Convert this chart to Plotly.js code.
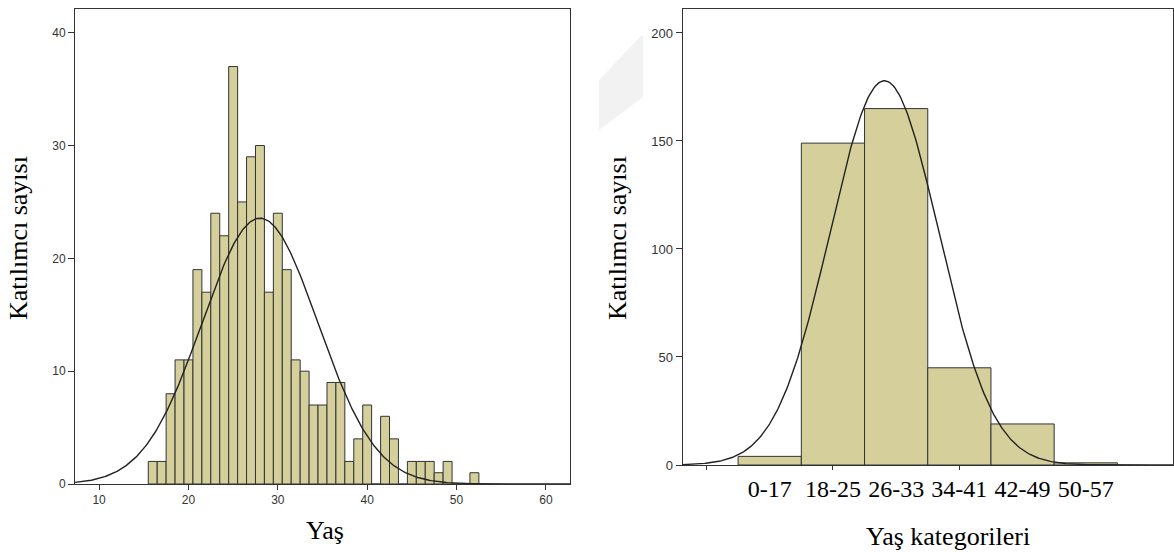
<!DOCTYPE html>
<html>
<head>
<meta charset="utf-8">
<script src="https://cdn.plot.ly/plotly-3.0.1.min.js"></script>
<style>html,body{margin:0;padding:0;background:#fff;}#chart{width:1174px;height:552px;}</style>
</head>
<body>
<div id="chart"></div>
<script>
// Left histogram: age (Yaş) vs count
const ages = [16,17,18,19,20,21,22,23,24,25,26,27,28,29,30,31,32,33,34,35,36,37,38,39,40,41,42,43,44,45,46,47,48,49,50,51,52];
const ageCounts = [2,2,8,11,11,19,17,24,22,37,25,29,30,17,24,19,11,10,7,7,9,9,2,4,7,0,6,4,0,2,2,2,1,2,0,0,1];
const leftXTicks = [10,20,30,40,50,60];
const leftYTicks = [0,10,20,30,40];

// Right histogram: age categories
const categories = ['0-17','18-25','26-33','34-41','42-49','50-57'];
const categoryCodes = [1,2,3,4,5,6];
const categoryCounts = [4,149,165,45,19,1];
const rightYTicks = [0,50,100,150,200];
const rightXTicks = [0,2,4];

const W = 1174, H = 552;
const px = v => v / W;
const py = v => 1 - v / H;

// Normal curve fitted from data (mean, sample sd), scaled to counts * bin width
function normalFit(xs, ns, lo, hi, binW) {
  let n = 0, s = 0;
  for (let i = 0; i < xs.length; i++) { n += ns[i]; s += xs[i] * ns[i]; }
  const mean = s / n;
  let ss = 0;
  for (let i = 0; i < xs.length; i++) ss += ns[i] * (xs[i] - mean) ** 2;
  const sd = Math.sqrt(ss / (n - 1));
  const cx = [], cy = [];
  const steps = 400;
  for (let k = 0; k <= steps; k++) {
    const x = lo + (hi - lo) * k / steps;
    cx.push(x);
    cy.push(n * binW / (sd * Math.sqrt(2 * Math.PI)) * Math.exp(-0.5 * ((x - mean) / sd) ** 2));
  }
  return {x: cx, y: cy};
}

const leftRange = [7.3, 62.7];
const rightRange = [-0.38, 7.38];
const leftCurve = normalFit(ages, ageCounts, leftRange[0], leftRange[1], 1);
const rightCurve = normalFit(categoryCodes, categoryCounts, rightRange[0], rightRange[1], 1);

const barColor = '#d4cf9b';
const edge = '#333333';

const traces = [
  {type: 'bar', x: ages, y: ageCounts, width: 1, xaxis: 'x', yaxis: 'y',
   marker: {color: barColor, line: {color: edge, width: 1}}, hoverinfo: 'x+y'},
  {type: 'scatter', mode: 'lines', x: leftCurve.x, y: leftCurve.y, xaxis: 'x', yaxis: 'y',
   line: {color: '#222', width: 1.4}, hoverinfo: 'skip'},
  {type: 'bar', x: categoryCodes, y: categoryCounts, width: 1, xaxis: 'x2', yaxis: 'y2',
   marker: {color: barColor, line: {color: edge, width: 1}}, hoverinfo: 'y'},
  {type: 'scatter', mode: 'lines', x: rightCurve.x, y: rightCurve.y, xaxis: 'x3', yaxis: 'y2',
   line: {color: '#222', width: 1.4}, hoverinfo: 'skip'}
];

const sansTick = {family: 'Liberation Sans, Arial, sans-serif', size: 12, color: '#333'};
const serif = 'Liberation Serif, Times New Roman, serif';

const layout = {
  width: W, height: H,
  margin: {l: 0, r: 0, t: 0, b: 0},
  paper_bgcolor: '#fff', plot_bgcolor: '#fff',
  showlegend: false, bargap: 0,
  xaxis: {domain: [px(75), px(570)], range: leftRange, anchor: 'y',
    tickvals: leftXTicks, ticks: 'outside', ticklen: 5, tickcolor: edge,
    showline: true, mirror: true, linecolor: edge, linewidth: 1,
    showgrid: false, zeroline: false, tickfont: sansTick, fixedrange: true},
  yaxis: {domain: [py(484), py(9)], range: [0, 42.1], anchor: 'x',
    tickvals: leftYTicks, ticks: 'outside', ticklen: 6, tickcolor: edge,
    showline: true, mirror: true, linecolor: edge, linewidth: 1,
    showgrid: false, zeroline: false, tickfont: sansTick, fixedrange: true},
  xaxis2: {domain: [px(682.5), px(1173)], range: rightRange, anchor: 'y2',
    tickvals: categoryCodes, ticktext: categories, ticks: '', ticklabelstandoff: 2,
    showline: true, mirror: true, linecolor: edge, linewidth: 1,
    showgrid: false, zeroline: false,
    tickfont: {family: serif, size: 24, color: '#000'}, fixedrange: true},
  xaxis3: {overlaying: 'x2', range: rightRange, anchor: 'y2', side: 'bottom',
    tickvals: rightXTicks, ticks: 'outside', ticklen: 4, tickcolor: edge,
    showticklabels: false, showline: false, showgrid: false, zeroline: false, fixedrange: true},
  yaxis2: {domain: [py(465), py(9)], range: [0, 211.1], anchor: 'x2',
    tickvals: rightYTicks, ticks: 'outside', ticklen: 6, tickcolor: edge,
    showline: true, mirror: true, linecolor: edge, linewidth: 1,
    showgrid: false, zeroline: false,
    tickfont: {family: 'Liberation Sans, Arial, sans-serif', size: 13, color: '#333'}, fixedrange: true},
  annotations: [
    {text: 'Katılımcı sayısı', xref: 'paper', yref: 'paper', x: px(18), y: py(238),
     textangle: -90, showarrow: false, xanchor: 'center', yanchor: 'middle',
     font: {family: serif, size: 26, color: '#000'}},
    {text: 'Yaş', xref: 'paper', yref: 'paper', x: px(325), y: py(530),
     showarrow: false, xanchor: 'center', yanchor: 'middle',
     font: {family: serif, size: 26, color: '#000'}},
    {text: 'Katılımcı sayısı', xref: 'paper', yref: 'paper', x: px(617), y: py(238),
     textangle: -90, showarrow: false, xanchor: 'center', yanchor: 'middle',
     font: {family: serif, size: 26, color: '#000'}},
    {text: 'Yaş kategorileri', xref: 'paper', yref: 'paper', x: px(948), y: py(536),
     showarrow: false, xanchor: 'center', yanchor: 'middle',
     font: {family: serif, size: 26, color: '#000'}}
  ],
  shapes: [
    {type: 'path', xref: 'paper', yref: 'paper', layer: 'below',
     path: `M ${px(599)} ${py(80)} L ${px(643)} ${py(34)} L ${px(643)} ${py(97)} L ${px(599)} ${py(130)} Z`,
     fillcolor: '#f2f2f2', line: {width: 0}}
  ]
};

Plotly.newPlot('chart', traces, layout, {displayModeBar: false, staticPlot: true});
</script>
</body>
</html>
